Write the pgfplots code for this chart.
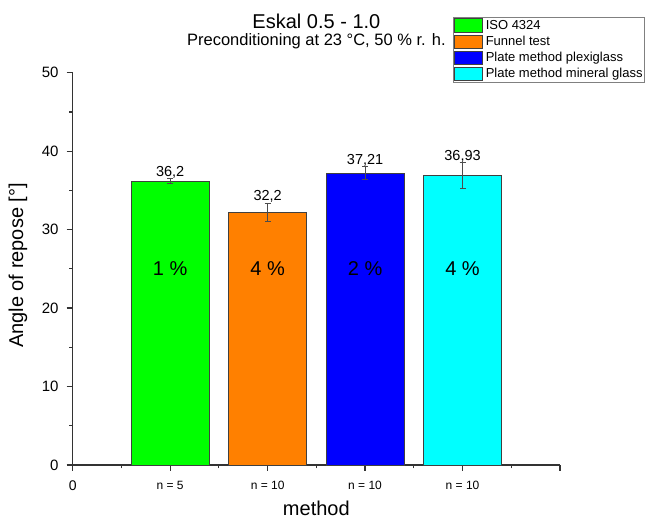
\documentclass[border=0pt]{standalone}
\usepackage{fontspec}
\setmainfont{Liberation Sans}
\usepackage{pgfplots}
\pgfplotsset{compat=1.18}
\definecolor{cgreen}{RGB}{0,255,0}
\definecolor{corange}{RGB}{255,128,0}
\definecolor{cblue}{RGB}{0,0,255}
\definecolor{ccyan}{RGB}{0,255,255}
\newcommand{\fs}[1]{\fontsize{#1bp}{#1bp}\selectfont}
\pgfplotsset{
 barleg/.style={legend image code/.code={\draw[##1,line width=0.8bp,draw=black!75] (0bp,-6.85bp) rectangle (28bp,6.85bp);}},
 errs/.style={error bars/.cd, y dir=both, y explicit,
   error mark options={rotate=90, mark size=3bp, line width=0.7bp, draw=black!70},
   error bar style={line width=0.7bp, draw=black!70}},
}
\begin{document}
\begin{tikzpicture}[x=1bp,y=1bp]
\useasboundingbox (0,0) rectangle (645,519);
\node[font=\fs{20}] at (316.4,498) {Eskal 0.5 - 1.0};
\node[font=\fs{16.5}] at (316.4,478) {Preconditioning at 23 °C, 50 \% r. h.};
\begin{axis}[
 at={(72.7bp,54bp)}, anchor=south west,
 width=487.3bp, height=392.3bp, scale only axis,
 xmin=0, xmax=5, ymin=0, ymax=50,
 clip=false,
 axis lines=left,
 axis line style={-, line width=1.3bp, draw=black!80},
 tick align=outside, tick pos=left,
 major tick length=6bp, minor tick length=3.5bp,
 every tick/.style={line width=1.2bp, draw=black!80},
 minor tick num=1,
 xtick={0,1,2,3,4,5},
 xticklabels={{\fs{14}0}, {n = 5}, {n = 10}, {n = 10}, {n = 10}, {}},
 xticklabel style={font=\fs{12}, anchor=north, inner sep=0pt, yshift=-10bp},
 ytick={0,10,20,30,40,50},
 yticklabel style={font=\fs{15}, anchor=east, inner sep=0pt, xshift=-8bp},
 /pgf/number format/assume math mode=true,
 xlabel={method},
 ylabel={Angle of repose [°]},
 every axis x label/.style={at={(axis description cs:0.5,-0.130)}, anchor=base, font=\fs{20}},
 every axis y label/.style={at={(axis description cs:-0.1122,0.5085)}, rotate=90, anchor=center, font=\fs{20}},
 legend style={at={(0.7798,1.142)}, anchor=north west, draw=black!50, line width=0.9bp,
   inner sep=1bp, font=\fs{13}, row sep=1.6bp, column sep=2bp,
   cells={anchor=west}, nodes={inner sep=0.8bp}},
]
\addplot[ybar, bar width=0.8, bar shift=0pt, fill=cgreen, draw=black!75, line width=0.8bp, barleg, errs]
  coordinates {(1,36.2) +- (0,0.35)};
\addlegendentry{ISO 4324}
\addplot[ybar, bar width=0.8, bar shift=0pt, fill=corange, draw=black!75, line width=0.8bp, barleg, errs]
  coordinates {(2,32.2) +- (0,1.2)};
\addlegendentry{Funnel test}
\addplot[ybar, bar width=0.8, bar shift=0pt, fill=cblue, draw=black!75, line width=0.8bp, barleg, errs]
  coordinates {(3,37.21) +- (0,0.8)};
\addlegendentry{Plate method plexiglass}
\addplot[ybar, bar width=0.8, bar shift=0pt, fill=ccyan, draw=black!75, line width=0.8bp, barleg, errs]
  coordinates {(4,36.93) +- (0,1.65)};
\addlegendentry{Plate method mineral glass}
\addplot[forget plot, only marks, mark=none, nodes near coords, point meta=explicit symbolic,
  nodes near coords style={font=\fs{14.5}, anchor=base, yshift=2bp, inner sep=0pt}]
  coordinates {(1,36.55)[{36,2}] (2,33.4)[{32,2}] (3,38.01)[{37,21}] (4,38.58)[{36,93}]};
\addplot[forget plot, only marks, mark=none, nodes near coords, point meta=explicit symbolic,
  nodes near coords style={font=\fs{20}, anchor=center, inner sep=0pt}]
  coordinates {(1,25)[1 \%] (2,25)[4 \%] (3,25)[2 \%] (4,25)[4 \%]};
\end{axis}
\end{tikzpicture}
\end{document}
